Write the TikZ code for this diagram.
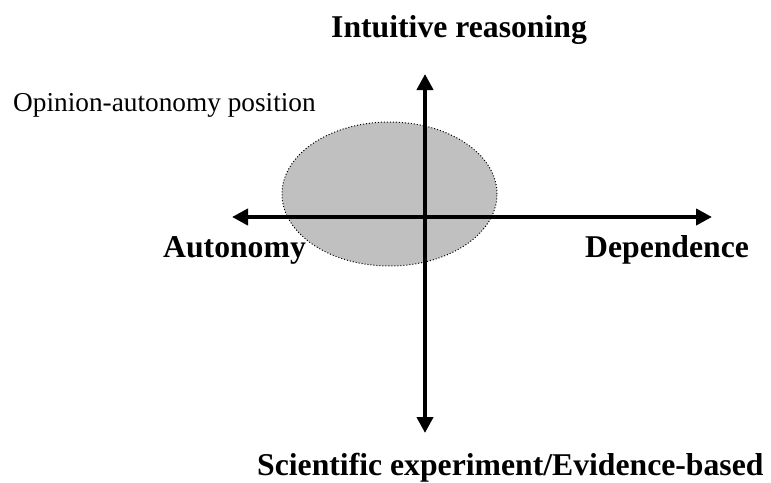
\documentclass[tikz,border=0pt]{standalone}
\usepackage{fontspec}
\setmainfont{Liberation Serif}
\usetikzlibrary{arrows.meta,shapes.geometric}
\begin{document}
\begin{tikzpicture}[x=1pt,y=-1pt,
  axis/.style={line width=4pt,{Triangle[length=16pt,width=16pt]}-{Triangle[length=16pt,width=16pt]}},
  boldlabel/.style={anchor=base west,inner sep=0pt,font=\fontsize{31.7}{36}\selectfont\bfseries},
  plainlabel/.style={anchor=base west,inner sep=0pt,font=\fontsize{27.3}{32}\selectfont}]
\useasboundingbox (0,0) rectangle (771,482);
\node[draw=black,dotted,line width=1pt,fill={rgb,255:red,192;green,192;blue,192},ellipse,minimum width=215pt,minimum height=144pt,inner sep=0pt] (pos) at (389.5,194) {};
\coordinate (top) at (425,74);
\coordinate (bottom) at (425,433);
\coordinate (left) at (232,217);
\coordinate (right) at (712,217);
\draw[axis] (left) -- (right);
\draw[axis] (top) -- (bottom);
\node[boldlabel] (intu) at (331,37) {Intuitive reasoning};
\node[plainlabel] (opin) at (13,111) {Opinion-autonomy position};
\node[boldlabel] (auto) at (163,257) {Autonomy};
\node[boldlabel] (dep) at (585,257) {Dependence};
\node[boldlabel] (sci) at (257,475) {Scientific experiment/Evidence-based};
\end{tikzpicture}
\end{document}
